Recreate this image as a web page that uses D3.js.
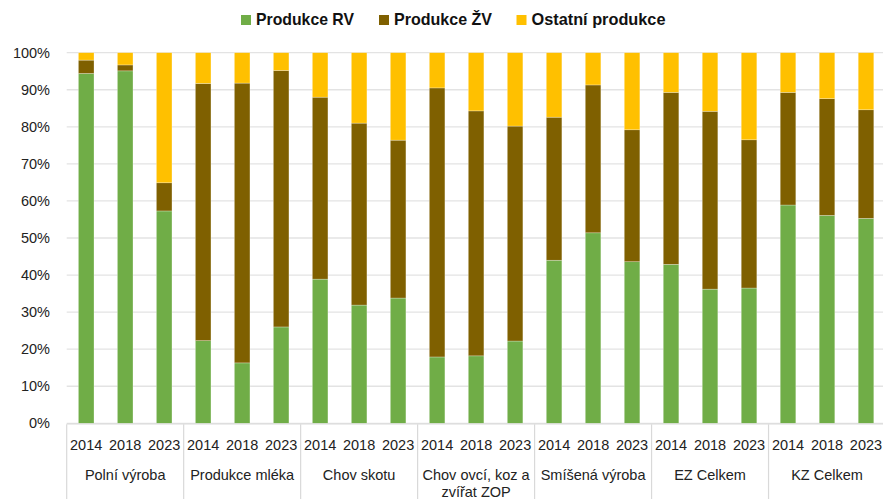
<!DOCTYPE html>
<html>
<head>
<meta charset="utf-8">
<script src="https://cdn.jsdelivr.net/npm/d3@7"></script>
<style>
  html, body { margin: 0; padding: 0; background: #fff; }
  svg { display: block; font-family: "Liberation Sans", Arial, sans-serif; }
</style>
</head>
<body>
<svg id="chart" width="883" height="499"></svg>
<script>
// ---- data ----
const groups = ["Polní výroba", "Produkce mléka", "Chov skotu", "Chov ovcí, koz a zvířat ZOP", "Smíšená výroba", "EZ Celkem", "KZ Celkem"];
const groupLines = [["Polní výroba"], ["Produkce mléka"], ["Chov skotu"], ["Chov ovcí, koz a", "zvířat ZOP"], ["Smíšená výroba"], ["EZ Celkem"], ["KZ Celkem"]];
const years = ["2014", "2018", "2023"];
const seriesNames = ["Produkce RV", "Produkce ŽV", "Ostatní produkce"];
const produkceRV = [94.4, 95.1, 57.3, 22.3, 16.3, 26.0, 38.9, 31.9, 33.8, 17.9, 18.2, 22.2, 44.0, 51.4, 43.6, 42.9, 36.2, 36.5, 58.9, 56.1, 55.3];
const produkceZV = [3.6, 1.6, 7.6, 69.4, 75.5, 69.2, 49.1, 49.1, 42.6, 72.6, 66.1, 58.0, 38.6, 39.9, 35.6, 46.4, 48.0, 40.0, 30.4, 31.5, 29.3];
const ostatni = [2.0, 3.3, 35.1, 8.3, 8.2, 4.8, 12.0, 19.0, 23.6, 9.5, 15.7, 19.8, 17.4, 8.7, 20.8, 10.7, 15.8, 23.5, 10.7, 12.4, 15.4];
const yTicks = [0, 10, 20, 30, 40, 50, 60, 70, 80, 90, 100];
const colors = ["#70AD47", "#7F6000", "#FFC000"];

// ---- build table ----
const rows = [];
groups.forEach((g, gi) => years.forEach((yr, yi) => {
  const i = gi * 3 + yi;
  rows.push({ key: g + "|" + yr, group: g, year: yr, rv: produkceRV[i], zv: produkceZV[i], ost: ostatni[i] });
}));

const svg = d3.select("#chart");
const plotL = 66.7, plotR = 885.5, plotT = 52.7, plotB = 423.3;

const x = d3.scaleBand().domain(rows.map(d => d.key)).range([plotL, plotR]).paddingInner(0.6).paddingOuter(0.3);
const xg = d3.scaleBand().domain(groups).range([plotL, plotR]).padding(0);
const y = d3.scaleLinear().domain([0, 100]).range([plotB, plotT]);

// gridlines
svg.append("g").selectAll("line").data(yTicks).join("line")
  .attr("x1", plotL).attr("x2", 883)
  .attr("y1", d => y(d)).attr("y2", d => y(d))
  .attr("stroke", "#e3e3e3").attr("stroke-width", 1.3);

// y labels
const yAxis = d3.axisLeft(y).tickValues(yTicks).tickFormat(d => d + "%").tickSize(0).tickPadding(0);
const ya = svg.append("g").attr("transform", `translate(50,0)`).call(yAxis);
ya.select(".domain").remove();
ya.selectAll("text").attr("font-size", 14.5).attr("fill", "#222").attr("font-family", "Liberation Sans, Arial, sans-serif");

// stacked bars
const stack = d3.stack().keys(["rv", "zv", "ost"]);
const stacked = stack(rows);
svg.append("g").selectAll("g").data(stacked).join("g")
  .attr("fill", (d, i) => colors[i])
  .selectAll("rect").data(d => d).join("rect")
  .attr("x", d => x(d.data.key))
  .attr("width", x.bandwidth())
  .attr("y", d => y(d[1]))
  .attr("height", d => y(d[0]) - y(d[1]))
  .attr("stroke", "#fff").attr("stroke-opacity", 0.45).attr("stroke-width", 0.6);

// category axis box
const axisG = svg.append("g");
axisG.append("line").attr("x1", plotL).attr("x2", 883).attr("y1", plotB + 0.7).attr("y2", plotB + 0.7)
  .attr("stroke", "#d9d9d9").attr("stroke-width", 1.2);
const seps = groups.map(g => xg(g)).concat([plotR]);
axisG.selectAll("line.sep").data(seps).join("line").attr("class", "sep")
  .attr("x1", d => d).attr("x2", d => d).attr("y1", plotB + 1).attr("y2", 499)
  .attr("stroke", "#d9d9d9").attr("stroke-width", 1.2);

// year labels
svg.append("g").selectAll("text").data(rows).join("text")
  .attr("x", d => x(d.key) + x.bandwidth() / 2)
  .attr("y", 450)
  .attr("text-anchor", "middle").attr("font-size", 14.5).attr("fill", "#222")
  .text(d => d.year);

// group labels
const gl = svg.append("g").selectAll("text").data(groups).join("text")
  .attr("x", d => xg(d) + xg.bandwidth() / 2)
  .attr("y", 480)
  .attr("text-anchor", "middle").attr("font-size", 14.5).attr("fill", "#222");
gl.selectAll("tspan").data((d, i) => groupLines[i]).join("tspan")
  .attr("x", function () { return d3.select(this.parentNode).attr("x"); })
  .attr("dy", (d, i) => i === 0 ? 0 : 17)
  .text(d => d);

// legend
const legendLayout = [{ x: 241, w: 98 }, { x: 379, w: 98 }, { x: 516.5, w: 134 }];
const lg = svg.append("g").selectAll("g").data(seriesNames).join("g")
  .attr("transform", (d, i) => `translate(${legendLayout[i].x},0)`);
lg.append("rect").attr("x", 0).attr("y", 15).attr("width", 10).attr("height", 10).attr("fill", (d, i) => colors[i]);
lg.append("text").attr("x", 15).attr("y", 25).attr("font-size", 17).attr("font-weight", "bold").attr("fill", "#111")
  .attr("textLength", (d, i) => legendLayout[i].w).attr("lengthAdjust", "spacingAndGlyphs")
  .text(d => d);
</script>
</body>
</html>
